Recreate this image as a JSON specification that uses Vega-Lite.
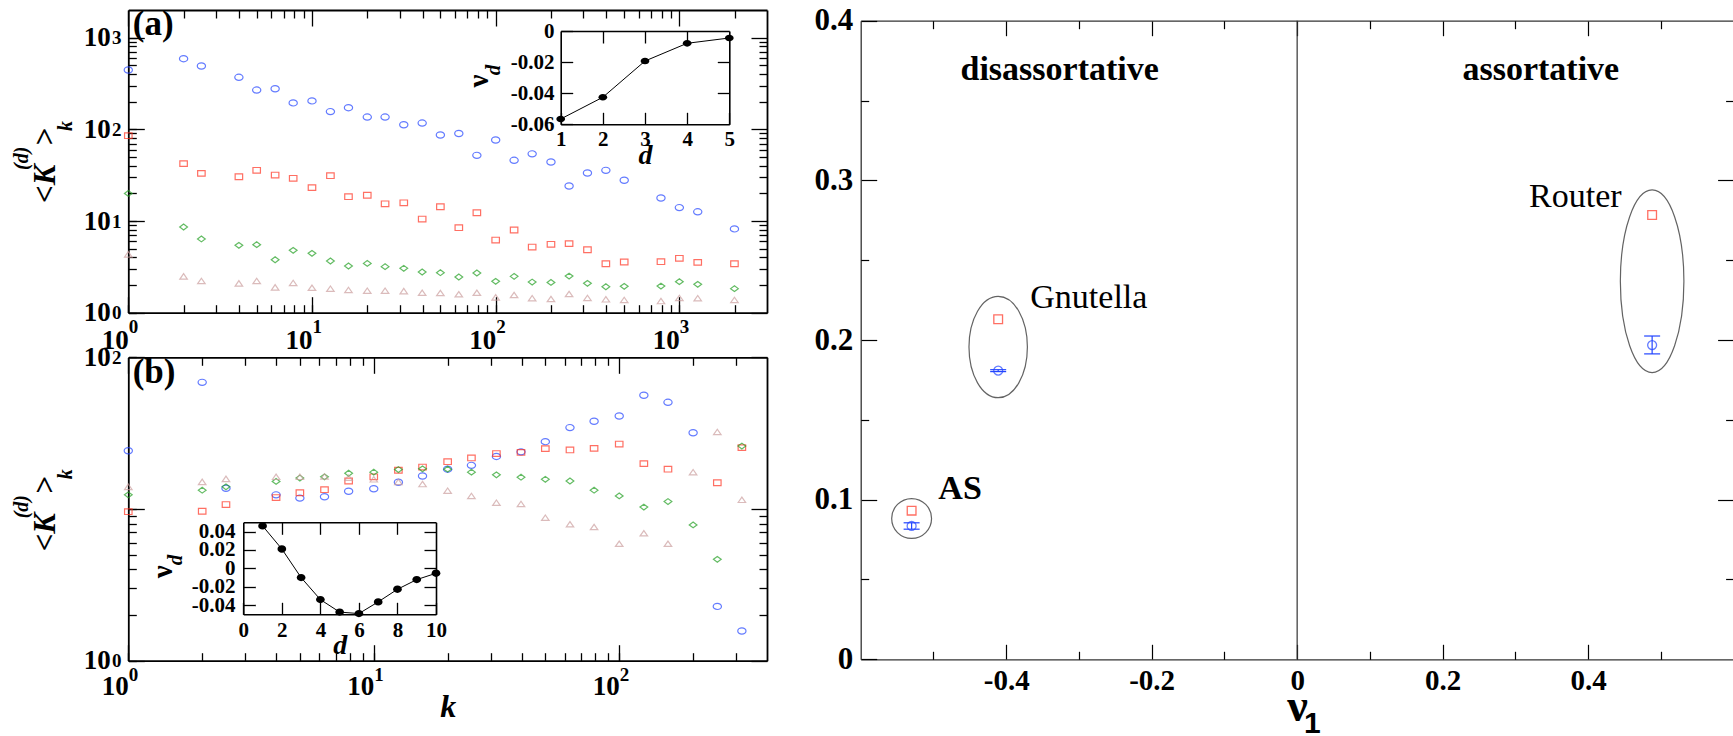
{
"$schema": "https://vega.github.io/schema/vega-lite/v6.json",
"width": 1733, "height": 736, "autosize": {"type": "none"}, "padding": 0, "background": "white",
"config": {"view": {"stroke": null}, "axis": {"grid": false, "labelFlush": false, "labelOverlap": false, "labelBound": false, "domainColor": "#000", "tickColor": "#000", "labelColor": "#000", "titleColor": "#000", "labelFont": "Liberation Serif", "titleFont": "Liberation Serif", "labelFontWeight": "bold", "titleFontWeight": "bold", "labelAngle": 0, "tickWidth": 1.3}},
"datasets": {
"pa": [
{"k":1,"s1":443,"s2":85.2,"s3":20.0,"s4":4.33},
{"k":2,"s1":589,"s2":42.2,"s3":8.6,"s4":2.49},
{"k":2.5,"s1":490,"s2":33.1,"s3":6.37,"s4":2.22},
{"k":4,"s1":369,"s2":30.4,"s3":5.43,"s4":2.09},
{"k":5,"s1":268,"s2":35.7,"s3":5.52,"s4":2.22},
{"k":6.3,"s1":277,"s2":31.7,"s3":3.78,"s4":1.89},
{"k":7.9,"s1":194,"s2":29.2,"s3":4.79,"s4":2.11},
{"k":10,"s1":204,"s2":23.1,"s3":4.44,"s4":1.87},
{"k":12.6,"s1":156,"s2":31.2,"s3":3.66,"s4":1.83},
{"k":15.8,"s1":172,"s2":18.4,"s3":3.23,"s4":1.77},
{"k":20,"s1":136,"s2":19.1,"s3":3.45,"s4":1.74},
{"k":25,"s1":136,"s2":15.4,"s3":3.18,"s4":1.74},
{"k":31.6,"s1":112,"s2":15.8,"s3":3.05,"s4":1.72},
{"k":39.8,"s1":117,"s2":10.5,"s3":2.78,"s4":1.65},
{"k":50,"s1":86.7,"s2":14.3,"s3":2.73,"s4":1.64},
{"k":63,"s1":90,"s2":8.45,"s3":2.45,"s4":1.59},
{"k":79,"s1":52,"s2":12.3,"s3":2.71,"s4":1.65},
{"k":100,"s1":76.4,"s2":6.2,"s3":2.2,"s4":1.47},
{"k":126,"s1":45.9,"s2":7.98,"s3":2.49,"s4":1.56},
{"k":158,"s1":54,"s2":5.2,"s3":2.16,"s4":1.44},
{"k":200,"s1":44,"s2":5.57,"s3":2.14,"s4":1.41},
{"k":251,"s1":24.1,"s2":5.66,"s3":2.51,"s4":1.6},
{"k":316,"s1":33.4,"s2":4.86,"s3":2.09,"s4":1.45},
{"k":398,"s1":35.7,"s2":3.42,"s3":1.92,"s4":1.4},
{"k":501,"s1":27.8,"s2":3.57,"s3":1.94,"s4":1.38},
{"k":794,"s1":17.8,"s2":3.6,"s3":1.95,"s4":1.34},
{"k":1000,"s1":14.0,"s2":3.92,"s3":2.18,"s4":1.45},
{"k":1259,"s1":12.6,"s2":3.54,"s3":2.04,"s4":1.44},
{"k":1995,"s1":8.2,"s2":3.42,"s3":1.83,"s4":1.38}
],
"pb": [
{"k":1,"s1":24.2,"s2":9.6,"s3":12.4,"s4":14.0},
{"k":2,"s1":68.4,"s2":9.66,"s3":13.3,"s4":15.1},
{"k":2.5,"s1":13.7,"s2":10.7,"s3":14.0,"s4":15.8},
{"k":4,"s1":12.4,"s2":11.9,"s3":15.2,"s4":16.3},
{"k":5,"s1":11.8,"s2":12.8,"s3":16.0,"s4":16.3},
{"k":6.3,"s1":12.05,"s2":13.4,"s3":16.3,"s4":16.4},
{"k":7.9,"s1":13.1,"s2":15.3,"s3":17.2,"s4":16.1},
{"k":10,"s1":13.6,"s2":16.3,"s3":17.5,"s4":15.7},
{"k":12.6,"s1":15.0,"s2":18.0,"s3":18.2,"s4":15.1},
{"k":15.8,"s1":16.5,"s2":18.9,"s3":18.4,"s4":14.6},
{"k":20,"s1":18.3,"s2":20.5,"s3":18.3,"s4":13.2},
{"k":25,"s1":19.4,"s2":21.7,"s3":17.5,"s4":12.2},
{"k":31.6,"s1":22.2,"s2":23.2,"s3":16.8,"s4":11.0},
{"k":39.8,"s1":23.8,"s2":23.6,"s3":16.2,"s4":10.8},
{"k":50,"s1":27.8,"s2":25.0,"s3":15.7,"s4":8.77},
{"k":63,"s1":34.4,"s2":24.5,"s3":15.3,"s4":7.93},
{"k":79,"s1":37.9,"s2":25.1,"s3":13.3,"s4":7.61},
{"k":100,"s1":41.0,"s2":26.8,"s3":12.2,"s4":5.9},
{"k":126,"s1":56.2,"s2":19.9,"s3":10.3,"s4":6.92},
{"k":158,"s1":50.5,"s2":18.3,"s3":11.2,"s4":5.9},
{"k":200,"s1":31.8,"s2":null,"s3":7.85,"s4":17.5},
{"k":251,"s1":2.28,"s2":14.9,"s3":4.66,"s4":32.2},
{"k":316,"s1":1.57,"s2":25.4,"s3":26.0,"s4":11.5}
],
"ia": [{"d":1,"v":-0.0566},{"d":2,"v":-0.0426},{"d":3,"v":-0.0193},{"d":4,"v":-0.0079},{"d":5,"v":-0.0045}],
"ib": [{"d":1,"v":0.0461},{"d":2,"v":0.021},{"d":3,"v":-0.0101},{"d":4,"v":-0.034},{"d":5,"v":-0.0476},{"d":6,"v":-0.0492},{"d":7,"v":-0.0365},{"d":8,"v":-0.0228},{"d":9,"v":-0.0123},{"d":10,"v":-0.0054}],
"r": [
{"net":"AS","nu":-0.53,"sq":0.0931,"ci":0.0835,"lo":0.0815,"hi":0.0855,"cy":0.0882},
{"net":"Gnutella","nu":-0.411,"sq":0.213,"ci":0.1808,"lo":0.1802,"hi":0.1814,"cy":0.1956},
{"net":"Router","nu":0.488,"sq":0.2783,"ci":0.1968,"lo":0.1913,"hi":0.2025,"cy":0.2368}
]
},
"resolve": {"scale": {"x": "independent", "y": "independent"}, "axis": {"x": "independent", "y": "independent"}},
"layer": [
{"data": {"name": "pa"},
 "mark": {"type": "point", "shape": "M1,0C1,0.414,0.552,0.75,0,0.75C-0.552,0.75,-1,0.414,-1,0C-1,-0.414,-0.552,-0.75,0,-0.75C0.552,-0.75,1,-0.414,1,0Z", "size": 68, "filled": false, "color": "#2244ff", "strokeWidth": 1.2},
 "encoding": {
  "x": {"field": "k", "type": "quantitative", "scale": {"type":"log","domain":[1,3000],"range":[128.3,767],"nice":false},
        "axis": {"orient":"bottom","offset":-423.3,"values":[1,10,100,1000],"tickSize":-16,"domainWidth":1.8,"labelExpr":"'10'","labelAlign":"right","labelDx":10,"labelBaseline":"top","labelPadding":30.3,"labelFontSize":27,"title":null}},
  "y": {"field": "s1", "type": "quantitative", "scale": {"type":"log","domain":[1,2000],"range":[312.7,10],"nice":false},
        "axis": {"orient":"left","offset":-128.3,"values":[1,10,100,1000],"tickSize":-16,"domainWidth":1.8,"labelExpr":"'10'","labelAlign":"right","labelBaseline":"middle","labelPadding":34,"labelDy":6,"labelFontSize":27,"title":null}}
 }},
{"data": {"name": "pa"},
 "mark": {"type": "point", "shape": "M-1,-0.75L1,-0.75L1,0.75L-1,0.75Z", "size": 56, "filled": false, "color": "#ff3322", "strokeWidth": 1.2},
 "encoding": {
  "x": {"field": "k", "type": "quantitative", "scale": {"type":"log","domain":[1,3000],"range":[128.3,767],"nice":false},
        "axis": {"orient":"bottom","offset":-423.3,"values":[1,2,3,4,5,6,7,8,9,10,20,30,40,50,60,70,80,90,100,200,300,400,500,600,700,800,900,1000,2000],"tickSize":-8,"domain":false,"labelExpr":"datum.value===1?'0':datum.value===10?'1':datum.value===100?'2':datum.value===1000?'3':''","labelAlign":"left","labelDx":10.5,"labelBaseline":"top","labelPadding":13.2,"labelFontSize":19,"title":null}},
  "y": {"field": "s2", "type": "quantitative", "scale": {"type":"log","domain":[1,2000],"range":[312.7,10],"nice":false},
        "axis": {"orient":"left","offset":-128.3,"values":[1,2,3,4,5,6,7,8,9,10,20,30,40,50,60,70,80,90,100,200,300,400,500,600,700,800,900,1000],"tickSize":-8,"domain":false,"labelExpr":"datum.value===1?'0':datum.value===10?'1':datum.value===100?'2':datum.value===1000?'3':''","labelAlign":"right","labelBaseline":"middle","labelPadding":15.3,"labelDy":-5,"labelFontSize":19,"title":null}}
 }},
{"data": {"name": "pa"},
 "mark": {"type": "point", "shape": "M-1,0L0,-0.75L1,0L0,0.75Z", "size": 60, "filled": false, "color": "#22a022", "strokeWidth": 1.2},
 "encoding": {
  "x": {"field": "k", "type": "quantitative", "scale": {"type":"log","domain":[1,3000],"range":[128.3,767],"nice":false},
        "axis": {"orient":"top","offset":-10,"values":[1,10,100,1000],"tickSize":-16,"domainWidth":1.8,"labels":false,"title":null}},
  "y": {"field": "s3", "type": "quantitative", "scale": {"type":"log","domain":[1,2000],"range":[312.7,10],"nice":false},
        "axis": {"orient":"right","offset":-966,"values":[1,10,100,1000],"tickSize":-16,"domainWidth":1.8,"labels":false,"title":null}}
 }},
{"data": {"name": "pa"},
 "mark": {"type": "point", "shape": "M-1,0.72L0,-0.72L1,0.72Z", "size": 56, "filled": false, "color": "#cc9f9f", "strokeWidth": 1.2},
 "encoding": {
  "x": {"field": "k", "type": "quantitative", "scale": {"type":"log","domain":[1,3000],"range":[128.3,767],"nice":false},
        "axis": {"orient":"top","offset":-10,"values":[2,3,4,5,6,7,8,9,20,30,40,50,60,70,80,90,200,300,400,500,600,700,800,900,2000],"tickSize":-8,"domain":false,"labels":false,"title":null}},
  "y": {"field": "s4", "type": "quantitative", "scale": {"type":"log","domain":[1,2000],"range":[312.7,10],"nice":false},
        "axis": {"orient":"right","offset":-966,"values":[2,3,4,5,6,7,8,9,20,30,40,50,60,70,80,90,200,300,400,500,600,700,800,900],"tickSize":-8,"domain":false,"labels":false,"title":null}}
 }},
{"data": {"values": [{"x":1.057,"y":1067,"t":"(a)"}]},
 "mark": {"type": "text", "font": "Liberation Serif", "fontSize": 35, "fontWeight": "bold", "align": "left", "baseline": "alphabetic", "color": "#000"},
 "encoding": {
  "x": {"field": "x", "type": "quantitative", "scale": {"type":"log","domain":[1,3000],"range":[128.3,767],"nice":false}, "axis": null},
  "y": {"field": "y", "type": "quantitative", "scale": {"type":"log","domain":[1,2000],"range":[312.7,10],"nice":false}, "axis": null},
  "text": {"field": "t"}
 }},
{"data": {"values": [{"x":0.399,"y":15.71,"t":"<K"},{"x":0.399,"y":65.8,"t":">"}]},
 "mark": {"type": "text", "font": "Liberation Serif", "fontSize": 31, "fontWeight": "bold", "fontStyle": "italic", "angle": 270, "align": "left", "baseline": "alphabetic", "color": "#000"},
 "encoding": {
  "x": {"field": "x", "type": "quantitative", "scale": {"type":"log","domain":[1,3000],"range":[128.3,767],"nice":false}, "axis": null},
  "y": {"field": "y", "type": "quantitative", "scale": {"type":"log","domain":[1,2000],"range":[312.7,10],"nice":false}, "axis": null},
  "text": {"field": "t"}
 }},
{"data": {"values": [{"x":0.2844,"y":36.0,"t":"(d)"},{"x":0.492,"y":95.8,"t":"k"}]},
 "mark": {"type": "text", "font": "Liberation Serif", "fontSize": 20, "fontWeight": "bold", "fontStyle": "italic", "angle": 270, "align": "left", "baseline": "alphabetic", "color": "#000"},
 "encoding": {
  "x": {"field": "x", "type": "quantitative", "scale": {"type":"log","domain":[1,3000],"range":[128.3,767],"nice":false}, "axis": null},
  "y": {"field": "y", "type": "quantitative", "scale": {"type":"log","domain":[1,2000],"range":[312.7,10],"nice":false}, "axis": null},
  "text": {"field": "t"}
 }},

{"data": {"name": "pb"},
 "mark": {"type": "point", "shape": "M1,0C1,0.414,0.552,0.75,0,0.75C-0.552,0.75,-1,0.414,-1,0C-1,-0.414,-0.552,-0.75,0,-0.75C0.552,-0.75,1,-0.414,1,0Z", "size": 68, "filled": false, "color": "#2244ff", "strokeWidth": 1.2},
 "encoding": {
  "x": {"field": "k", "type": "quantitative", "scale": {"type":"log","domain":[1,400],"range":[128.3,767],"nice":false},
        "axis": {"orient":"bottom","offset":-75.3,"values":[1,10,100],"tickSize":-16,"domainWidth":1.8,"labelExpr":"'10'","labelAlign":"right","labelDx":10,"labelBaseline":"top","labelPadding":29,"labelFontSize":27,"title":"k","titleFontStyle":"italic","titleFontSize":32,"titleY":56,"titleBaseline":"alphabetic"}},
  "y": {"field": "s1", "type": "quantitative", "scale": {"type":"log","domain":[1,100],"range":[660.7,357.3],"nice":false},
        "axis": {"orient":"left","offset":-128.3,"values":[1,10,100],"tickSize":-16,"domainWidth":1.8,"labelExpr":"datum.value===10?'':'10'","labelAlign":"right","labelBaseline":"middle","labelPadding":34,"labelDy":6,"labelFontSize":27,"title":null}}
 }},
{"data": {"name": "pb"},
 "mark": {"type": "point", "shape": "M-1,-0.75L1,-0.75L1,0.75L-1,0.75Z", "size": 56, "filled": false, "color": "#ff3322", "strokeWidth": 1.2},
 "encoding": {
  "x": {"field": "k", "type": "quantitative", "scale": {"type":"log","domain":[1,400],"range":[128.3,767],"nice":false},
        "axis": {"orient":"bottom","offset":-75.3,"values":[1,2,3,4,5,6,7,8,9,10,20,30,40,50,60,70,80,90,100,200,300],"tickSize":-8,"domain":false,"labelExpr":"datum.value===1?'0':datum.value===10?'1':datum.value===100?'2':''","labelAlign":"left","labelDx":10.5,"labelBaseline":"top","labelPadding":13.2,"labelFontSize":19,"title":null}},
  "y": {"field": "s2", "type": "quantitative", "scale": {"type":"log","domain":[1,100],"range":[660.7,357.3],"nice":false},
        "axis": {"orient":"left","offset":-128.3,"values":[1,2,3,4,5,6,7,8,9,10,100],"tickSize":-8,"domain":false,"labelExpr":"datum.value===1?'0':datum.value===100?'2':''","labelAlign":"right","labelBaseline":"middle","labelPadding":15.3,"labelDy":-5,"labelFontSize":19,"title":null}}
 }},
{"data": {"name": "pb"},
 "mark": {"type": "point", "shape": "M-1,0L0,-0.75L1,0L0,0.75Z", "size": 60, "filled": false, "color": "#22a022", "strokeWidth": 1.2},
 "encoding": {
  "x": {"field": "k", "type": "quantitative", "scale": {"type":"log","domain":[1,400],"range":[128.3,767],"nice":false},
        "axis": {"orient":"top","offset":-357.3,"values":[1,10,100],"tickSize":-16,"domainWidth":1.8,"labels":false,"title":null}},
  "y": {"field": "s3", "type": "quantitative", "scale": {"type":"log","domain":[1,100],"range":[660.7,357.3],"nice":false},
        "axis": {"orient":"right","offset":-966,"values":[1,10,100],"tickSize":-16,"domainWidth":1.8,"labels":false,"title":null}}
 }},
{"data": {"name": "pb"},
 "mark": {"type": "point", "shape": "M-1,0.72L0,-0.72L1,0.72Z", "size": 56, "filled": false, "color": "#cc9f9f", "strokeWidth": 1.2},
 "encoding": {
  "x": {"field": "k", "type": "quantitative", "scale": {"type":"log","domain":[1,400],"range":[128.3,767],"nice":false},
        "axis": {"orient":"top","offset":-357.3,"values":[2,3,4,5,6,7,8,9,20,30,40,50,60,70,80,90,200,300],"tickSize":-8,"domain":false,"labels":false,"title":null}},
  "y": {"field": "s4", "type": "quantitative", "scale": {"type":"log","domain":[1,100],"range":[660.7,357.3],"nice":false},
        "axis": {"orient":"right","offset":-966,"values":[2,3,4,5,6,7,8,9],"tickSize":-8,"domain":false,"labels":false,"title":null}}
 }},
{"data": {"values": [{"x":1.042,"y":67.4,"t":"(b)"}]},
 "mark": {"type": "text", "font": "Liberation Serif", "fontSize": 35, "fontWeight": "bold", "align": "left", "baseline": "alphabetic", "color": "#000"},
 "encoding": {
  "x": {"field": "x", "type": "quantitative", "scale": {"type":"log","domain":[1,400],"range":[128.3,767],"nice":false}, "axis": null},
  "y": {"field": "y", "type": "quantitative", "scale": {"type":"log","domain":[1,100],"range":[660.7,357.3],"nice":false}, "axis": null},
  "text": {"field": "t"}
 }},
{"data": {"values": [{"x":0.5027,"y":5.262,"t":"<K"},{"x":0.5027,"y":12.5,"t":">"}]},
 "mark": {"type": "text", "font": "Liberation Serif", "fontSize": 31, "fontWeight": "bold", "fontStyle": "italic", "angle": 270, "align": "left", "baseline": "alphabetic", "color": "#000"},
 "encoding": {
  "x": {"field": "x", "type": "quantitative", "scale": {"type":"log","domain":[1,400],"range":[128.3,767],"nice":false}, "axis": null},
  "y": {"field": "y", "type": "quantitative", "scale": {"type":"log","domain":[1,100],"range":[660.7,357.3],"nice":false}, "axis": null},
  "text": {"field": "t"}
 }},
{"data": {"values": [{"x":0.39,"y":8.684,"t":"(d)"},{"x":0.5878,"y":15.7,"t":"k"}]},
 "mark": {"type": "text", "font": "Liberation Serif", "fontSize": 20, "fontWeight": "bold", "fontStyle": "italic", "angle": 270, "align": "left", "baseline": "alphabetic", "color": "#000"},
 "encoding": {
  "x": {"field": "x", "type": "quantitative", "scale": {"type":"log","domain":[1,400],"range":[128.3,767],"nice":false}, "axis": null},
  "y": {"field": "y", "type": "quantitative", "scale": {"type":"log","domain":[1,100],"range":[660.7,357.3],"nice":false}, "axis": null},
  "text": {"field": "t"}
 }},

{"data": {"name": "ia"},
 "mark": {"type": "line", "color": "#000", "strokeWidth": 1},
 "encoding": {
  "x": {"field": "d", "type": "quantitative", "scale": {"domain":[1,5],"range":[560.7,729.3],"nice":false,"zero":false},
        "axis": {"orient":"bottom","offset":-611.7,"values":[1,2,3,4,5],"tickSize":-12,"domainWidth":1.6,"labelBaseline":"top","labelPadding":16,"labelFontSize":21,"labelExpr":"format(datum.value,'d')","title":"d","titleFontStyle":"italic","titleFontSize":28,"titleY":38.7,"titleBaseline":"alphabetic"}},
  "y": {"field": "v", "type": "quantitative", "scale": {"domain":[-0.06,0],"range":[124.3,31],"nice":false,"zero":false},
        "axis": {"orient":"left","offset":-560.7,"values":[0,-0.02,-0.04,-0.06],"tickSize":-12,"domainWidth":1.6,"labelBaseline":"middle","labelPadding":18.7,"labelFontSize":21,"labelExpr":"datum.value===0?'0':replace(format(datum.value,'.2f'),'\u2212','-')","title":null}}
 }},
{"data": {"name": "ia"},
 "mark": {"type": "point", "shape": "M1,0C1,0.425,0.552,0.77,0,0.77C-0.552,0.77,-1,0.425,-1,0C-1,-0.425,-0.552,-0.77,0,-0.77C0.552,-0.77,1,-0.425,1,0Z", "size": 76, "filled": true, "color": "#000", "opacity": 1},
 "encoding": {
  "x": {"field": "d", "type": "quantitative", "scale": {"domain":[1,5],"range":[560.7,729.3],"nice":false,"zero":false},
        "axis": {"orient":"top","offset":-31,"values":[2,3,4],"tickSize":-12,"domainWidth":1.6,"labels":false,"title":null}},
  "y": {"field": "v", "type": "quantitative", "scale": {"domain":[-0.06,0],"range":[124.3,31],"nice":false,"zero":false},
        "axis": {"orient":"right","offset":-1003.7,"values":[-0.02,-0.04],"tickSize":-12,"domainWidth":1.6,"labels":false,"title":null}}
 }},
{"data": {"values": [{"x":-0.725,"y":-0.0322,"t":"ν"}]},
 "mark": {"type": "text", "font": "Liberation Serif", "fontSize": 29, "fontWeight": "bold", "angle": 270, "align": "center", "baseline": "alphabetic", "color": "#000"},
 "encoding": {
  "x": {"field": "x", "type": "quantitative", "scale": {"domain":[1,5],"range":[560.7,729.3],"nice":false,"zero":false}, "axis": null},
  "y": {"field": "y", "type": "quantitative", "scale": {"domain":[-0.06,0],"range":[124.3,31],"nice":false,"zero":false}, "axis": null},
  "text": {"field": "t"}
 }},
{"data": {"values": [{"x":-0.44,"y":-0.0251,"t":"d"}]},
 "mark": {"type": "text", "font": "Liberation Serif", "fontSize": 21, "fontWeight": "bold", "fontStyle": "italic", "angle": 270, "align": "center", "baseline": "alphabetic", "color": "#000"},
 "encoding": {
  "x": {"field": "x", "type": "quantitative", "scale": {"domain":[1,5],"range":[560.7,729.3],"nice":false,"zero":false}, "axis": null},
  "y": {"field": "y", "type": "quantitative", "scale": {"domain":[-0.06,0],"range":[124.3,31],"nice":false,"zero":false}, "axis": null},
  "text": {"field": "t"}
 }},

{"data": {"name": "ib"},
 "mark": {"type": "line", "color": "#000", "strokeWidth": 1},
 "encoding": {
  "x": {"field": "d", "type": "quantitative", "scale": {"domain":[0,10],"range":[243.3,436],"nice":false,"zero":false},
        "axis": {"orient":"bottom","offset":-121.7,"values":[0,2,4,6,8,10],"tickSize":-12,"domainWidth":1.6,"labelBaseline":"top","labelPadding":17.4,"labelFontSize":21,"labelExpr":"format(datum.value,'d')","title":"d","titleFontStyle":"italic","titleFontSize":28,"titleY":38.7,"titleBaseline":"alphabetic"}},
  "y": {"field": "v", "type": "quantitative", "scale": {"domain":[-0.05,0.05],"range":[614.3,522.3],"nice":false,"zero":false},
        "axis": {"orient":"left","offset":-243.3,"values":[-0.04,-0.02,0,0.02,0.04],"tickSize":-12,"domainWidth":1.6,"labelBaseline":"middle","labelPadding":20.3,"labelFontSize":21,"labelExpr":"datum.value===0?'0':replace(format(datum.value,'.2f'),'\u2212','-')","title":null}}
 }},
{"data": {"name": "ib"},
 "mark": {"type": "point", "shape": "M1,0C1,0.464,0.552,0.84,0,0.84C-0.552,0.84,-1,0.464,-1,0C-1,-0.464,-0.552,-0.84,0,-0.84C0.552,-0.84,1,-0.464,1,0Z", "size": 76, "filled": true, "color": "#000", "opacity": 1},
 "encoding": {
  "x": {"field": "d", "type": "quantitative", "scale": {"domain":[0,10],"range":[243.3,436],"nice":false,"zero":false},
        "axis": {"orient":"top","offset":-522.3,"values":[2,4,6,8],"tickSize":-12,"domainWidth":1.6,"labels":false,"title":null}},
  "y": {"field": "v", "type": "quantitative", "scale": {"domain":[-0.05,0.05],"range":[614.3,522.3],"nice":false,"zero":false},
        "axis": {"orient":"right","offset":-1297,"values":[-0.04,-0.02,0,0.02,0.04],"tickSize":-12,"domainWidth":1.6,"labels":false,"title":null}}
 }},
{"data": {"values": [{"x":-3.716,"y":-0.0037,"t":"ν"}]},
 "mark": {"type": "text", "font": "Liberation Serif", "fontSize": 29, "fontWeight": "bold", "angle": 270, "align": "center", "baseline": "alphabetic", "color": "#000"},
 "encoding": {
  "x": {"field": "x", "type": "quantitative", "scale": {"domain":[0,10],"range":[243.3,436],"nice":false,"zero":false}, "axis": null},
  "y": {"field": "y", "type": "quantitative", "scale": {"domain":[-0.05,0.05],"range":[614.3,522.3],"nice":false,"zero":false}, "axis": null},
  "text": {"field": "t"}
 }},
{"data": {"values": [{"x":-3.197,"y":0.009,"t":"d"}]},
 "mark": {"type": "text", "font": "Liberation Serif", "fontSize": 21, "fontWeight": "bold", "fontStyle": "italic", "angle": 270, "align": "center", "baseline": "alphabetic", "color": "#000"},
 "encoding": {
  "x": {"field": "x", "type": "quantitative", "scale": {"domain":[0,10],"range":[243.3,436],"nice":false,"zero":false}, "axis": null},
  "y": {"field": "y", "type": "quantitative", "scale": {"domain":[-0.05,0.05],"range":[614.3,522.3],"nice":false,"zero":false}, "axis": null},
  "text": {"field": "t"}
 }},

{"data": {"name": "r"},
 "mark": {"type": "point", "shape": "circle", "size": 80, "filled": false, "color": "#2244ff", "strokeWidth": 1.3},
 "encoding": {
  "x": {"field": "nu", "type": "quantitative", "scale": {"domain":[-0.6,0.6],"range":[860.7,1733.6],"nice":false,"zero":false},
        "axis": {"orient":"bottom","offset":-76.7,"values":[-0.4,-0.2,0,0.2,0.4],"tickSize":-15,"tickWidth":1.2,"domainWidth":1.3,"domainColor":"#333","labelExpr":"datum.value===0?'0':replace(format(datum.value,'.1f'),'\u2212','-')","labelBaseline":"top","labelPadding":22.5,"labelFontSize":29,"title":"ν","titleFontSize":46,"titleY":60.7,"titleBaseline":"alphabetic"}},
  "y": {"field": "ci", "type": "quantitative", "scale": {"domain":[0,0.4],"range":[659.3,20.7],"nice":false,"zero":false},
        "axis": {"orient":"left","offset":-860.7,"values":[0,0.1,0.2,0.3,0.4],"tickSize":-16,"tickWidth":1.2,"domainWidth":1.3,"domainColor":"#333","labelExpr":"datum.value===0?'0':format(datum.value,'.1f')","labelBaseline":"middle","labelPadding":24,"labelFontSize":31,"title":null}}
 }},
{"data": {"name": "r"},
 "mark": {"type": "point", "shape": "square", "size": 76, "filled": false, "color": "#ff3322", "strokeWidth": 1.3},
 "encoding": {
  "x": {"field": "nu", "type": "quantitative", "scale": {"domain":[-0.6,0.6],"range":[860.7,1733.6],"nice":false,"zero":false},
        "axis": {"orient":"bottom","offset":-76.7,"values":[-0.5,-0.3,-0.1,0.1,0.3,0.5],"tickSize":-8,"tickWidth":1.2,"domain":false,"labels":false,"title":null}},
  "y": {"field": "sq", "type": "quantitative", "scale": {"domain":[0,0.4],"range":[659.3,20.7],"nice":false,"zero":false},
        "axis": {"orient":"left","offset":-860.7,"values":[0.05,0.15,0.25,0.35],"tickSize":-8,"tickWidth":1.2,"domain":false,"labels":false,"title":null}}
 }},
{"data": {"name": "r"}, "transform": [{"filter": "datum.net === 'AS'"}],
 "mark": {"type": "point", "shape": "circle", "size": 1590, "filled": false, "color": "#222", "strokeWidth": 1.2},
 "encoding": {
  "x": {"field": "nu", "type": "quantitative", "scale": {"domain":[-0.6,0.6],"range":[860.7,1733.6],"nice":false,"zero":false},
        "axis": {"orient":"top","offset":-20.7,"values":[-0.4,-0.2,0,0.2,0.4],"tickSize":-15,"tickWidth":1.2,"domainWidth":1.3,"domainColor":"#333","labels":false,"title":null}},
  "y": {"field": "cy", "type": "quantitative", "scale": {"domain":[0,0.4],"range":[659.3,20.7],"nice":false,"zero":false},
        "axis": {"orient":"right","offset":0.6,"values":[0.1,0.2,0.3],"tickSize":-16,"tickWidth":1.2,"domainWidth":1.3,"domainColor":"#333","labels":false,"title":null}}
 }},
{"data": {"name": "r"}, "transform": [{"filter": "datum.net === 'Gnutella'"}],
 "mark": {"type": "point", "shape": "M0.576,0C0.576,0.552,0.318,1,0,1C-0.318,1,-0.576,0.552,-0.576,0C-0.576,-0.552,-0.318,-1,0,-1C0.318,-1,0.576,-0.552,0.576,0Z", "size": 10282, "filled": false, "color": "#222", "strokeWidth": 1.2},
 "encoding": {
  "x": {"field": "nu", "type": "quantitative", "scale": {"domain":[-0.6,0.6],"range":[860.7,1733.6],"nice":false,"zero":false},
        "axis": {"orient":"top","offset":-20.7,"values":[-0.5,-0.3,-0.1,0.1,0.3,0.5],"tickSize":-8,"tickWidth":1.2,"domain":false,"labels":false,"title":null}},
  "y": {"field": "cy", "type": "quantitative", "scale": {"domain":[0,0.4],"range":[659.3,20.7],"nice":false,"zero":false},
        "axis": {"orient":"right","offset":0.6,"values":[0.05,0.15,0.25,0.35],"tickSize":-8,"tickWidth":1.2,"domain":false,"labels":false,"title":null}}
 }},
{"data": {"name": "r"}, "transform": [{"filter": "datum.net === 'Router'"}],
 "mark": {"type": "point", "shape": "M0.348,0C0.348,0.552,0.192,1,0,1C-0.192,1,-0.348,0.552,-0.348,0C-0.348,-0.552,-0.192,-1,0,-1C0.192,-1,0.348,-0.552,0.348,0Z", "size": 33343, "filled": false, "color": "#222", "strokeWidth": 1.2},
 "encoding": {
  "x": {"field": "nu", "type": "quantitative", "scale": {"domain":[-0.6,0.6],"range":[860.7,1733.6],"nice":false,"zero":false}, "axis": null},
  "y": {"field": "cy", "type": "quantitative", "scale": {"domain":[0,0.4],"range":[659.3,20.7],"nice":false,"zero":false}, "axis": null}
 }},
{"data": {"values": [{"nu":0,"lo":0,"hi":0.4}]},
 "mark": {"type": "rule", "color": "#333", "strokeWidth": 1.2},
 "encoding": {
  "x": {"field": "nu", "type": "quantitative", "scale": {"domain":[-0.6,0.6],"range":[860.7,1733.6],"nice":false,"zero":false}, "axis": null},
  "y": {"field": "lo", "type": "quantitative", "scale": {"domain":[0,0.4],"range":[659.3,20.7],"nice":false,"zero":false}, "axis": null},
  "y2": {"field": "hi"}
 }},
{"data": {"name": "r"},
 "mark": {"type": "rule", "color": "#2244ff", "strokeWidth": 1.2},
 "encoding": {
  "x": {"field": "nu", "type": "quantitative", "scale": {"domain":[-0.6,0.6],"range":[860.7,1733.6],"nice":false,"zero":false}, "axis": null},
  "y": {"field": "lo", "type": "quantitative", "scale": {"domain":[0,0.4],"range":[659.3,20.7],"nice":false,"zero":false}, "axis": null},
  "y2": {"field": "hi"}
 }},
{"data": {"name": "r"},
 "mark": {"type": "tick", "orient": "horizontal", "size": 16, "thickness": 1.2, "color": "#2244ff", "opacity": 1},
 "encoding": {
  "x": {"field": "nu", "type": "quantitative", "scale": {"domain":[-0.6,0.6],"range":[860.7,1733.6],"nice":false,"zero":false}, "axis": null},
  "y": {"field": "lo", "type": "quantitative", "scale": {"domain":[0,0.4],"range":[659.3,20.7],"nice":false,"zero":false}, "axis": null}
 }},
{"data": {"name": "r"},
 "mark": {"type": "tick", "orient": "horizontal", "size": 16, "thickness": 1.2, "color": "#2244ff", "opacity": 1},
 "encoding": {
  "x": {"field": "nu", "type": "quantitative", "scale": {"domain":[-0.6,0.6],"range":[860.7,1733.6],"nice":false,"zero":false}, "axis": null},
  "y": {"field": "hi", "type": "quantitative", "scale": {"domain":[0,0.4],"range":[659.3,20.7],"nice":false,"zero":false}, "axis": null}
 }},
{"data": {"values": [{"x":-0.3265,"y":0.363,"t":"disassortative"},{"x":0.335,"y":0.363,"t":"assortative"},{"x":-0.4634,"y":0.1002,"t":"AS"}]},
 "mark": {"type": "text", "font": "Liberation Serif", "fontSize": 34, "fontWeight": "bold", "align": "center", "baseline": "alphabetic", "color": "#000"},
 "encoding": {
  "x": {"field": "x", "type": "quantitative", "scale": {"domain":[-0.6,0.6],"range":[860.7,1733.6],"nice":false,"zero":false}, "axis": null},
  "y": {"field": "y", "type": "quantitative", "scale": {"domain":[0,0.4],"range":[659.3,20.7],"nice":false,"zero":false}, "axis": null},
  "text": {"field": "t"}
 }},
{"data": {"values": [{"x":-0.2864,"y":0.2199,"t":"Gnutella"},{"x":0.3825,"y":0.2831,"t":"Router"}]},
 "mark": {"type": "text", "font": "Liberation Serif", "fontSize": 34, "align": "center", "baseline": "alphabetic", "color": "#000"},
 "encoding": {
  "x": {"field": "x", "type": "quantitative", "scale": {"domain":[-0.6,0.6],"range":[860.7,1733.6],"nice":false,"zero":false}, "axis": null},
  "y": {"field": "y", "type": "quantitative", "scale": {"domain":[0,0.4],"range":[659.3,20.7],"nice":false,"zero":false}, "axis": null},
  "text": {"field": "t"}
 }},
{"data": {"values": [{"x":0.0208,"y":-0.046,"t":"1"}]},
 "mark": {"type": "text", "font": "Liberation Sans", "fontSize": 30, "fontWeight": "bold", "align": "center", "baseline": "alphabetic", "color": "#000"},
 "encoding": {
  "x": {"field": "x", "type": "quantitative", "scale": {"domain":[-0.6,0.6],"range":[860.7,1733.6],"nice":false,"zero":false}, "axis": null},
  "y": {"field": "y", "type": "quantitative", "scale": {"domain":[0,0.4],"range":[659.3,20.7],"nice":false,"zero":false}, "axis": null},
  "text": {"field": "t"}
 }}
]
}
